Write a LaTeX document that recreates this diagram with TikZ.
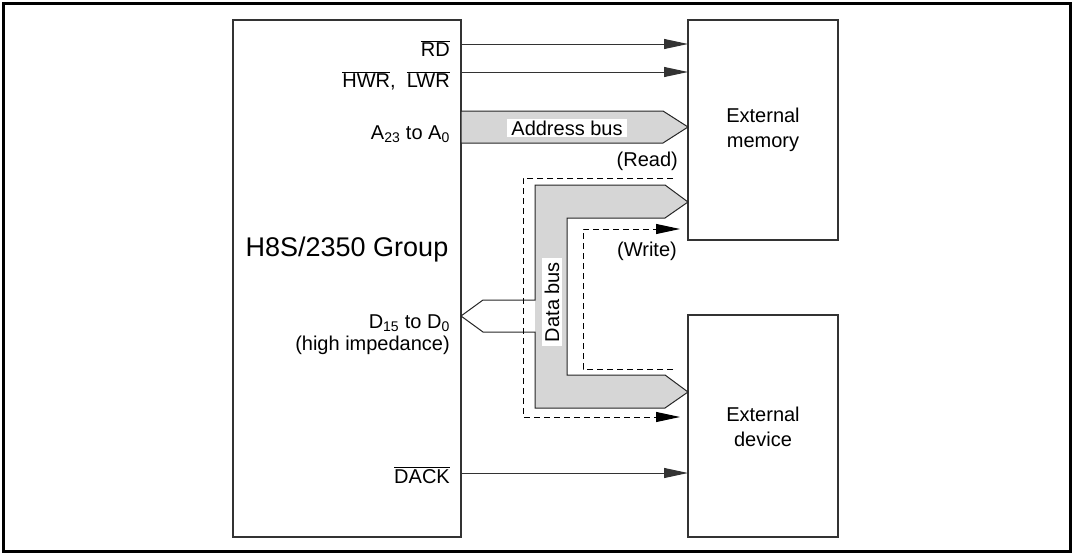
\documentclass[tikz,border=0pt]{standalone}
\usepackage{fontspec}
\setmainfont{Liberation Sans}
\usetikzlibrary{arrows.meta}

\newcommand{\sigbar}[1]{$\overline{\hbox{#1}}$}
\definecolor{busgray}{RGB}{214,214,214}

\begin{document}
\begin{tikzpicture}[
x=1pt, y=-1pt, % one unit per pixel, y runs downwards
>={Triangle[length=24pt,width=10pt]},
every node/.style={font=\fontsize{20}{25}\selectfont, inner sep=0pt},
blockbox/.style={draw=black!80, line width=1.5pt, outer sep=0pt, anchor=north west},
sigline/.style={draw=black!80, line width=1pt},
busline/.style={draw=black!85, line width=1pt, line join=miter},
dashpath/.style={line width=1pt, dash pattern=on 6pt off 4pt}
]
\useasboundingbox (0,0) rectangle (1074,554);
\draw[line width=3pt] (3,3) rectangle (1070,551);

% ================= Blocks =================
\node[blockbox, minimum width=228pt, minimum height=517pt] (chip) at (233,20) {};
\node[blockbox, minimum width=150pt, minimum height=220pt] (mem) at (688,20) {};
\node[blockbox, minimum width=150pt, minimum height=222pt] (dev) at (688,315) {};

\node[anchor=base, font=\fontsize{27}{32}\selectfont] (chiptxt) at (347,256) {H8S/2350 Group};
\node[align=center] (memtxt) at (763,130) {External\\memory};
\node[align=center] (devtxt) at (763,427) {External\\device};

% ================= Pin labels =================
\node[anchor=base east] (rd) at (450,56) {\sigbar{RD}};
\node[anchor=base east] (hwr) at (450,87) {\sigbar{HWR},\ \ \sigbar{LWR}};
\node[anchor=base east] (addr) at (450,139) {A\textsubscript{23} to A\textsubscript{0}};
\node[anchor=base east] (dq) at (450,328) {D\textsubscript{15} to D\textsubscript{0}};
\node[anchor=base east] (hiz) at (450,350) {(high impedance)};
\node[anchor=base east] (dack) at (450,483) {\sigbar{DACK}};

% ================= Strobes =================
\coordinate (rdA) at (461,44);   \coordinate (rdB) at (688,44);
\coordinate (hwrA) at (461,72);  \coordinate (hwrB) at (688,72);
\coordinate (dackA) at (461,473); \coordinate (dackB) at (688,473);
\draw[sigline, ->] (rdA) -- (rdB);
\draw[sigline, ->] (hwrA) -- (hwrB);
\draw[sigline, ->] (dackA) -- (dackB);

% ================= Address bus =================
\draw[busline, fill=busgray] (461,111) -- (663,111) -- (688,127) -- (663,143) -- (461,143) -- cycle;
\node[fill=white, inner xsep=4pt, inner ysep=2pt] (abus) at (567,128) {Address bus};

% ================= Data bus =================
\fill[busgray] (535,185) -- (665,185) -- (688,202) -- (665,218) -- (567,218) -- (567,375)
  -- (665,375) -- (688,392) -- (665,408) -- (535,408) -- cycle;
\draw[busline] (461,316) -- (483,300) -- (535,300) -- (535,185) -- (665,185) -- (688,202)
  -- (665,218) -- (567,218) -- (567,375) -- (665,375) -- (688,392) -- (665,408)
  -- (535,408) -- (535,332) -- (483,332) -- cycle;
\node[fill=white, rotate=90, inner xsep=4pt, inner ysep=3pt] (dbus) at (552,302) {Data bus};

% Read / write flow
\coordinate (rdS) at (673,178); \coordinate (rdE) at (680,417);
\coordinate (wrS) at (673,369); \coordinate (wrE) at (680,229);
\draw[dashpath, ->] (rdS) -- (523,178) -- (523,417) -- (rdE);
\draw[dashpath, ->] (wrS) -- (583,369) -- (583,229) -- (wrE);
\node[anchor=base east] (readtxt) at (678,166) {(Read)};
\node[anchor=base east] (writetxt) at (677,256) {(Write)};

\end{tikzpicture}
\end{document}
